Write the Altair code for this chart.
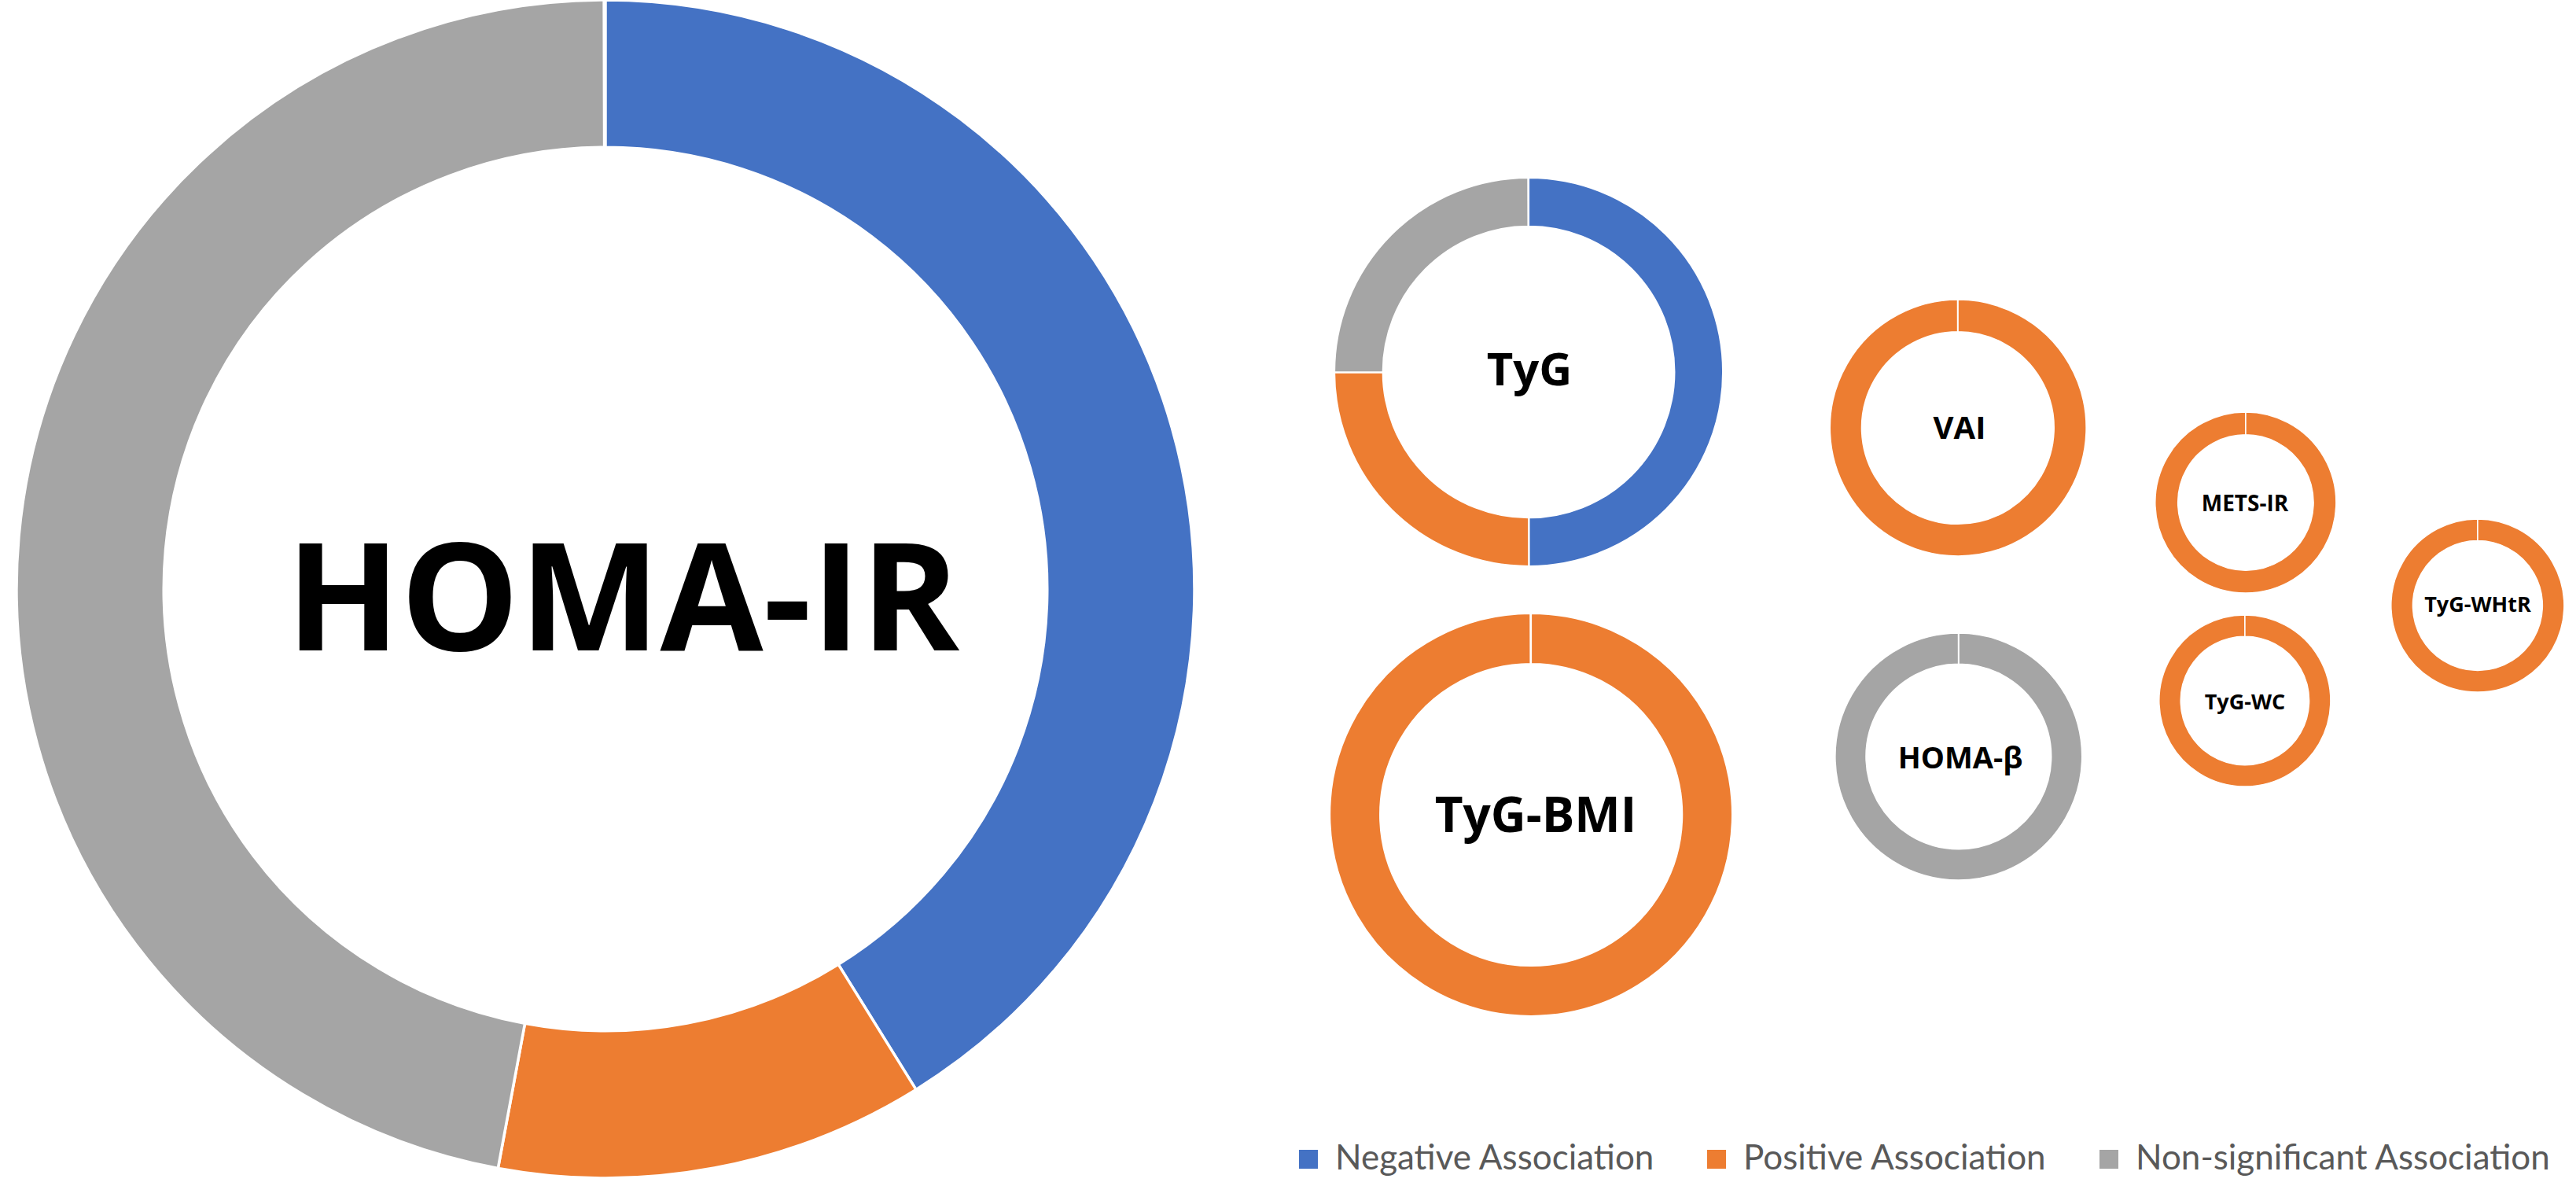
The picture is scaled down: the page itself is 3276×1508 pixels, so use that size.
import math

import altair as alt
import pandas as pd

# Number of studies reporting each kind of association, per index
indices = ["HOMA-IR", "TyG", "TyG-BMI", "VAI", "HOMA-β", "METS-IR", "TyG-WC", "TyG-WHtR"]
associations = ["Negative Association", "Positive Association", "Non-significant Association"]
negative = [7, 2, 0, 0, 0, 0, 0, 0]
positive = [2, 1, 1, 1, 0, 1, 1, 1]
non_significant = [8, 1, 0, 0, 1, 0, 0, 0]
colors = ["#4472C4", "#ED7D31", "#A5A5A5"]

# Ring layout on the canvas (pixels): centre, outer radius, separator width
ring_x = [770, 1944, 1947, 2490, 2491, 2856, 2855, 3151]
ring_y = [749, 473, 1036, 544, 962, 639, 891, 770]
ring_r = [749, 247, 256, 163, 157, 115, 109, 110]
ring_sep = [3.5, 2.2, 2.2, 1.7, 1.7, 1.4, 1.4, 1.4]
HOLE = 0.75

# Centre label placement: x centre, baseline, font size
label_x = [792, 1945, 1953, 2492, 2493, 2855, 2855, 3151]
label_y = [827, 490, 1058, 558, 977, 650, 902, 778]
label_size = [190, 58, 62, 40, 38, 28, 27, 27]

rows = []
for i, name in enumerate(indices):
    for k, series in enumerate([negative, positive, non_significant]):
        if series[i] > 0:
            rows.append({"index": name, "association": associations[k],
                         "order": k, "count": series[i]})
slices = pd.DataFrame(rows)
layout = pd.DataFrame({"index": indices, "cx": ring_x, "cy": ring_y,
                       "r": ring_r, "sw": ring_sep})
slices = slices.merge(layout, on="index")

labels = pd.DataFrame({"index": indices, "lx": label_x, "ly": label_y,
                       "fs": label_size})

# Slightly short of a full turn so single-slice rings keep the white seam at 12 o'clock
full_turn = 2 * math.pi * 0.9996

rings = (
    alt.Chart(slices)
    .transform_joinaggregate(total="sum(count)", groupby=["index"])
    .transform_window(cum="sum(count)", groupby=["index"],
                      sort=[alt.SortField("order")], frame=[None, 0])
    .transform_calculate(start="(datum.cum - datum.count) / datum.total",
                         end="datum.cum / datum.total",
                         r_in=f"datum.r * {HOLE}")
    .mark_arc(stroke="white")
    .encode(
        x=alt.X("cx:Q", scale=None),
        y=alt.Y("cy:Q", scale=None),
        theta=alt.Theta("start:Q", stack=False,
                        scale=alt.Scale(domain=[0, 1], range=[0, full_turn])),
        theta2="end:Q",
        radius=alt.Radius("r:Q", scale=None),
        radius2="r_in:Q",
        strokeWidth=alt.StrokeWidth("sw:Q", scale=None, legend=None),
        color=alt.Color(
            "association:N",
            scale=alt.Scale(domain=associations, range=colors),
            legend=alt.Legend(title=None),
        ),
    )
)

names = (
    alt.Chart(labels)
    .mark_text(font="Open Sans", fontWeight="bold", align="center",
               baseline="alphabetic", color="black")
    .encode(
        x=alt.X("lx:Q", scale=None),
        y=alt.Y("ly:Q", scale=None),
        text="index:N",
        size=alt.Size("fs:Q", scale=None, legend=None),
    )
)

chart = (
    alt.layer(rings, names)
    .properties(width=3276, height=1508, padding=0,
                autosize=alt.AutoSizeParams(type="none"), background="white")
    .configure_view(stroke=None)
    .configure_legend(
        orient="none",
        legendX=1642,
        legendY=1452,
        direction="horizontal",
        symbolType="square",
        symbolSize=576,
        symbolStrokeWidth=0,
        labelFont="Lato",
        labelFontSize=44,
        labelColor="#595959",
        labelLimit=2000,
        labelOffset=12,
        columnPadding=56,
    )
)

chart.save("out.html", embed_options={"renderer": "svg", "actions": False})
